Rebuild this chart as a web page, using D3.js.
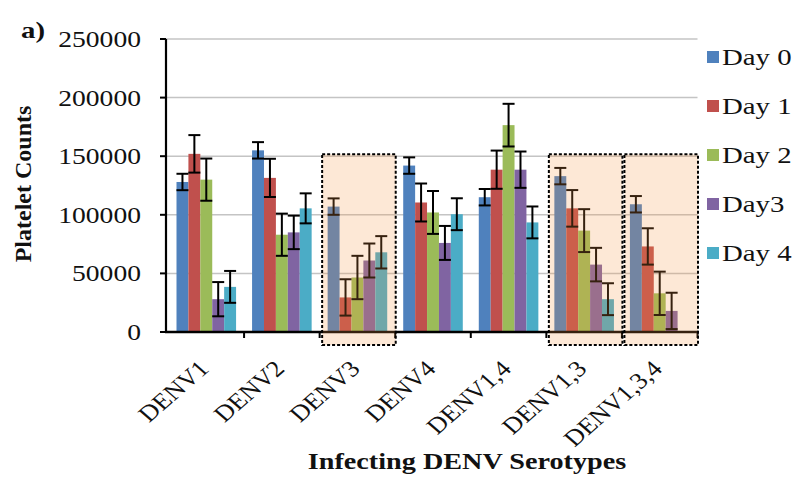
<!DOCTYPE html>
<html>
<head>
<meta charset="utf-8">
<script src="https://cdn.jsdelivr.net/npm/d3@7"></script>
<style>
  html, body { margin: 0; padding: 0; background: #fff; }
  svg { display: block; }
  text { font-family: "Liberation Serif", "Times New Roman", serif; fill: #111; }
</style>
</head>
<body>
<svg id="chart" width="802" height="479"></svg>
<script>
// Platelet counts by infecting serotype, days 0-4 (mean ± error)
const categories = ["DENV1", "DENV2", "DENV3", "DENV4", "DENV1,4", "DENV1,3", "DENV1,3,4"];
const seriesNames = ["Day 0", "Day 1", "Day 2", "Day3", "Day 4"];
const day0    = [128000, 155000, 107000, 142000, 115000, 133000, 109000];
const day0Err = [7000, 7000, 7000, 7000, 7000, 7000, 7000];
const day1    = [152000, 131500, 29500, 110500, 138500, 105500, 73000];
const day1Err = [16000, 16300, 15500, 16200, 16300, 15600, 15500];
const day2    = [130000, 83000, 46500, 102000, 176500, 86500, 33000];
const day2Err = [18000, 18000, 18500, 18300, 18200, 18300, 18500];
const day3    = [28000, 85000, 61000, 76000, 138500, 57500, 18000];
const day3Err = [14600, 14300, 14500, 14500, 15500, 14300, 15500];
const day4    = [38500, 105500, 68000, 100500, 93500, 28000, null];
const day4Err = [13600, 12800, 13800, 13600, 13600, 13600, null];
const yTicks  = [0, 50000, 100000, 150000, 200000, 250000];
const highlighted = ["DENV3", "DENV1,3", "DENV1,3,4"];

const values = [day0, day1, day2, day3, day4];
const errors = [day0Err, day1Err, day2Err, day3Err, day4Err];
const colors = ["#4F81BD", "#C0504D", "#9BBB59", "#8064A2", "#4BACC6"];

const svg = d3.select("#chart");
const SX = 1.2; // horizontal stretch of the lettering

const plot = { left: 166, right: 697.5, top: 39, bottom: 332 };

const y = d3.scaleLinear().domain([0, 250000]).range([plot.bottom, plot.top]);
const x = d3.scaleBand().domain(categories).range([168.5, plot.right]).padding(0);
const bw = x.bandwidth();
const inner = d3.scaleBand().domain(d3.range(seriesNames.length)).range([8, bw - 8]).padding(0);

// gridlines
svg.append("g").selectAll("line").data(yTicks.filter(d => d > 0)).join("line")
  .attr("x1", plot.left).attr("x2", plot.right)
  .attr("y1", d => y(d)).attr("y2", d => y(d))
  .attr("stroke", "#c4c4c4").attr("stroke-width", 1.5);

// bars
const rows = [];
categories.forEach((c, i) => {
  values.forEach((s, k) => {
    if (s[i] != null) rows.push({ cat: c, k, v: s[i], e: errors[k][i] });
  });
});

svg.append("g").selectAll("rect").data(rows).join("rect")
  .attr("x", d => x(d.cat) + inner(d.k))
  .attr("width", inner.bandwidth())
  .attr("y", d => y(d.v))
  .attr("height", d => y(0) - y(d.v))
  .attr("fill", d => colors[d.k]);

// error bars
const eb = svg.append("g").attr("stroke", "#000").attr("stroke-width", 2);
rows.forEach(d => {
  const cx = x(d.cat) + inner(d.k) + inner.bandwidth() / 2;
  const cap = 6;
  eb.append("line").attr("x1", cx).attr("x2", cx).attr("y1", y(d.v + d.e)).attr("y2", y(d.v - d.e));
  eb.append("line").attr("x1", cx - cap).attr("x2", cx + cap).attr("y1", y(d.v + d.e)).attr("y2", y(d.v + d.e));
  eb.append("line").attr("x1", cx - cap).attr("x2", cx + cap).attr("y1", y(d.v - d.e)).attr("y2", y(d.v - d.e));
});

// axes
const yAxis = svg.append("g");
yAxis.append("line").attr("x1", plot.left).attr("x2", plot.left)
  .attr("y1", plot.top).attr("y2", plot.bottom + 1).attr("stroke", "#000").attr("stroke-width", 2.2);
yAxis.selectAll("line.tk").data(yTicks).join("line").attr("class", "tk")
  .attr("x1", plot.left - 6).attr("x2", plot.left)
  .attr("y1", d => y(d)).attr("y2", d => y(d))
  .attr("stroke", "#000").attr("stroke-width", 2);
yAxis.selectAll("text").data(yTicks).join("text")
  .attr("transform", d => `translate(141,${y(d) + 8}) scale(${SX},1)`)
  .attr("text-anchor", "end")
  .style("font-size", "23px")
  .text(d => d3.format("d")(d));

const xAxis = svg.append("g");
xAxis.append("line").attr("x1", plot.left - 1).attr("x2", plot.right + 1)
  .attr("y1", plot.bottom).attr("y2", plot.bottom).attr("stroke", "#000").attr("stroke-width", 2.6);
const bounds = categories.map(c => x(c)).concat([x(categories[categories.length - 1]) + bw]);
xAxis.selectAll("line.tk").data(bounds.slice(1)).join("line").attr("class", "tk")
  .attr("x1", d => d).attr("x2", d => d)
  .attr("y1", plot.bottom).attr("y2", plot.bottom + 6)
  .attr("stroke", "#000").attr("stroke-width", 2);
xAxis.selectAll("text").data(categories).join("text")
  .attr("transform", c => `translate(${x(c) + bw / 2 + 4},${plot.bottom + 38}) scale(1.15,1) rotate(-45)`)
  .attr("text-anchor", "end")
  .style("font-size", "23px")
  .text(c => c);

// highlighted serotype panels, drawn over the bars
svg.append("g").selectAll("rect").data(highlighted).join("rect")
  .attr("x", c => x(c) + 2.5)
  .attr("width", bw - 2)
  .attr("y", y(150000) - 2)
  .attr("height", plot.bottom + 13 - (y(150000) - 2))
  .attr("fill", "rgba(247,150,70,0.22)")
  .attr("stroke", "#000")
  .attr("stroke-width", 2)
  .attr("stroke-dasharray", "3,2");

// legend
const lg = svg.append("g");
seriesNames.forEach((name, k) => {
  const cy = 57 + k * 49;
  lg.append("rect").attr("x", 707).attr("y", cy - 6).attr("width", 12).attr("height", 12).attr("fill", colors[k]);
  lg.append("text").attr("transform", `translate(722,${cy + 8}) scale(${SX},1)`)
    .style("font-size", "24px").text(name);
});

// titles
svg.append("text").attr("transform", `translate(21,38) scale(${SX},1)`)
  .style("font-size", "24px").style("font-weight", "bold").text("a)");
svg.append("text").attr("transform", `translate(31,184) rotate(-90)`)
  .attr("text-anchor", "middle")
  .style("font-size", "24px").style("font-weight", "bold").text("Platelet Counts");
svg.append("text").attr("transform", `translate(467,469) scale(${SX},1)`)
  .attr("text-anchor", "middle")
  .style("font-size", "23.5px").style("font-weight", "bold").text("Infecting DENV Serotypes");
</script>
</body>
</html>
